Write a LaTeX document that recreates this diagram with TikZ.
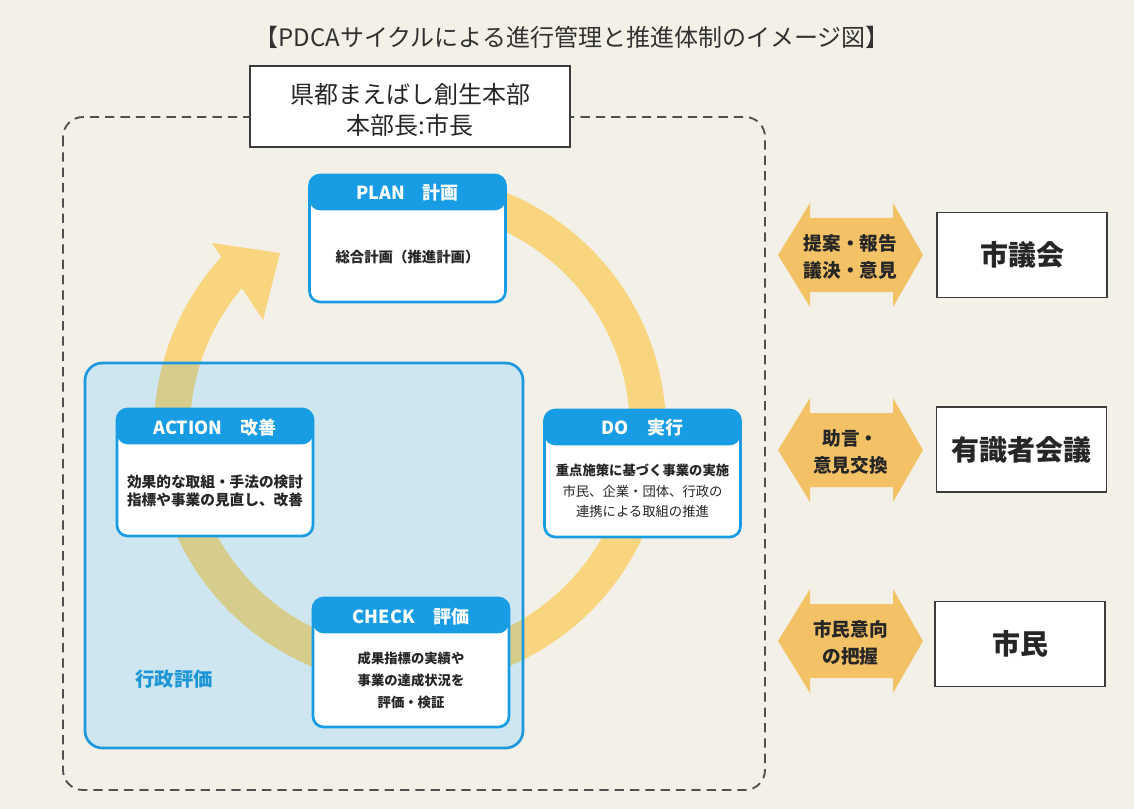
\documentclass[tikz,border=0pt]{standalone}
\usepackage{fontspec}
\setmainfont{Noto Sans CJK JP}
\definecolor{bg}{RGB}{243,241,231}
\definecolor{ringY}{RGB}{249,213,128}
\definecolor{ringO}{RGB}{214,205,140}
\definecolor{blueB}{RGB}{30,152,220}
\definecolor{blueF}{RGB}{206,230,240}
\definecolor{hdr}{RGB}{24,156,228}
\definecolor{arrO}{RGB}{243,193,102}
\definecolor{txt}{RGB}{38,38,38}
\definecolor{dashc}{RGB}{80,80,80}
\definecolor{boxc}{RGB}{60,60,60}
\definecolor{bluetxt}{RGB}{28,150,215}
\newcommand\DArrow[3]{%
  \fill[arrO] (778,#2) -- (810,#2-52) -- (810,#2-37) -- (893,#2-37) -- (893,#2-52) -- (923,#2)
    -- (893,#2+52) -- (893,#2+37) -- (810,#2+37) -- (810,#2+52) -- cycle;
  \node[arrtext] (#1) at (850.5,#2+2) {#3};
}
\begin{document}
\begin{tikzpicture}[x=0.75pt,y=-0.75pt,
  every node/.style={inner sep=0pt, outer sep=0pt, text=txt},
  phase/.style={draw=hdr, line width=2pt, fill=white, rounded corners=8pt,
    minimum width=147pt, minimum height=95.25pt,
    path picture={\fill[hdr] (path picture bounding box.north west) rectangle ([yshift=-26.5pt]path picture bounding box.north east);}},
  hdrtext/.style={text=white, font=\bfseries\fontsize{13.5}{16}\selectfont},
  body/.style={align=center, font=\fontsize{10}{15.5}\selectfont},
  ext/.style={draw=boxc, line width=1.2pt, fill=white, minimum width=127.5pt, minimum height=63.5pt,
    font=\bfseries\fontsize{21}{24}\selectfont},
  arrtext/.style={align=center, font=\bfseries\fontsize{14}{20}\selectfont},
  ringline/.style={line width=27pt}
]
% background
\fill[bg] (0,0) rectangle (1134,809);
\useasboundingbox (0,0) rectangle (1134,809);

% title
\node[font=\fontsize{18}{21}\selectfont, text={rgb,255:red,50;green,50;blue,50}] (title) at (572,37)
  {【PDCAサイクルによる進行管理と推進体制のイメージ図】};

% dashed frame
\draw[dashc, line width=1.4pt, dash pattern=on 7pt off 4.5pt, rounded corners=15pt]
  (63,117) rectangle (765,790);

% top box
\node[draw=boxc, line width=1.2pt, fill=white, minimum width=240pt, minimum height=60.75pt] (hq) at (410,106.5) {};
\node[align=center, font=\fontsize{18}{23}\selectfont] (hqt) at (410,110) {県都まえばし創生本部\\本部長:市長};

% yellow ring with arrow head
\draw[ringY, ringline] (410,430) ++(-90:238) arc[start angle=-90, end angle=223, radius=238];
\fill[ringY] (212,243) -- (280,253) -- (263,320) -- cycle;

% administrative evaluation area
\fill[blueF, rounded corners=13pt] (85,363) rectangle (523,748);
\begin{scope}
  \clip[rounded corners=13pt] (85,363) rectangle (523,748);
  \draw[ringO, ringline] (410,430) ++(-90:238) arc[start angle=-90, end angle=223, radius=238];
\end{scope}
\draw[blueB, line width=2pt, rounded corners=13pt] (85,363) rectangle (523,748);
\node[text=bluetxt, font=\bfseries\fontsize{14.5}{17}\selectfont] (gyosei) at (174,679) {行政評価};

% PLAN
\node[phase] (plan) at (407.5,238.5) {};
\node[hdrtext] (planh) at (407.5,192.5) {PLAN　計画};
\node[body, font=\bfseries\fontsize{10.8}{15}\selectfont] (planb) at (407.5,257) {総合計画（推進計画）};

% DO
\node[phase] (do) at (642.5,473.5) {};
\node[hdrtext] (doh) at (642.5,427.5) {DO　実行};
\node[body, font=\fontsize{10}{15.5}\selectfont] (dob) at (642.5,491)
  {{\bfseries 重点施策に基づく事業の実施}\\市民、企業・団体、行政の\\連携による取組の推進};

% ACTION
\node[phase] (action) at (215,472.5) {};
\node[hdrtext] (actionh) at (215,427.5) {ACTION　改善};
\node[body, font=\bfseries\fontsize{11}{14}\selectfont] (actionb) at (215,491)
  {効果的な取組・手法の検討\\指標や事業の見直し、改善};

% CHECK
\node[phase, minimum height=96.75pt] (check) at (411,662.5) {};
\node[hdrtext] (checkh) at (411,616.5) {CHECK　評価};
\node[body, font=\bfseries\fontsize{10}{16.5}\selectfont] (checkb) at (411,680.5)
  {成果指標の実績や\\事業の達成状況を\\評価・検証};

% external bodies and double arrows
\DArrow{a1}{255}{提案・報告\\議決・意見}
\DArrow{a2}{450}{助言・\\意見交換}
\DArrow{a3}{641}{市民意向\\の把握}
\node[ext] (gikai) at (1022,255) {市議会};
\node[ext] (yushiki) at (1021.5,449.5) {有識者会議};
\node[ext] (shimin) at (1020,644) {市民};
\end{tikzpicture}
\end{document}
